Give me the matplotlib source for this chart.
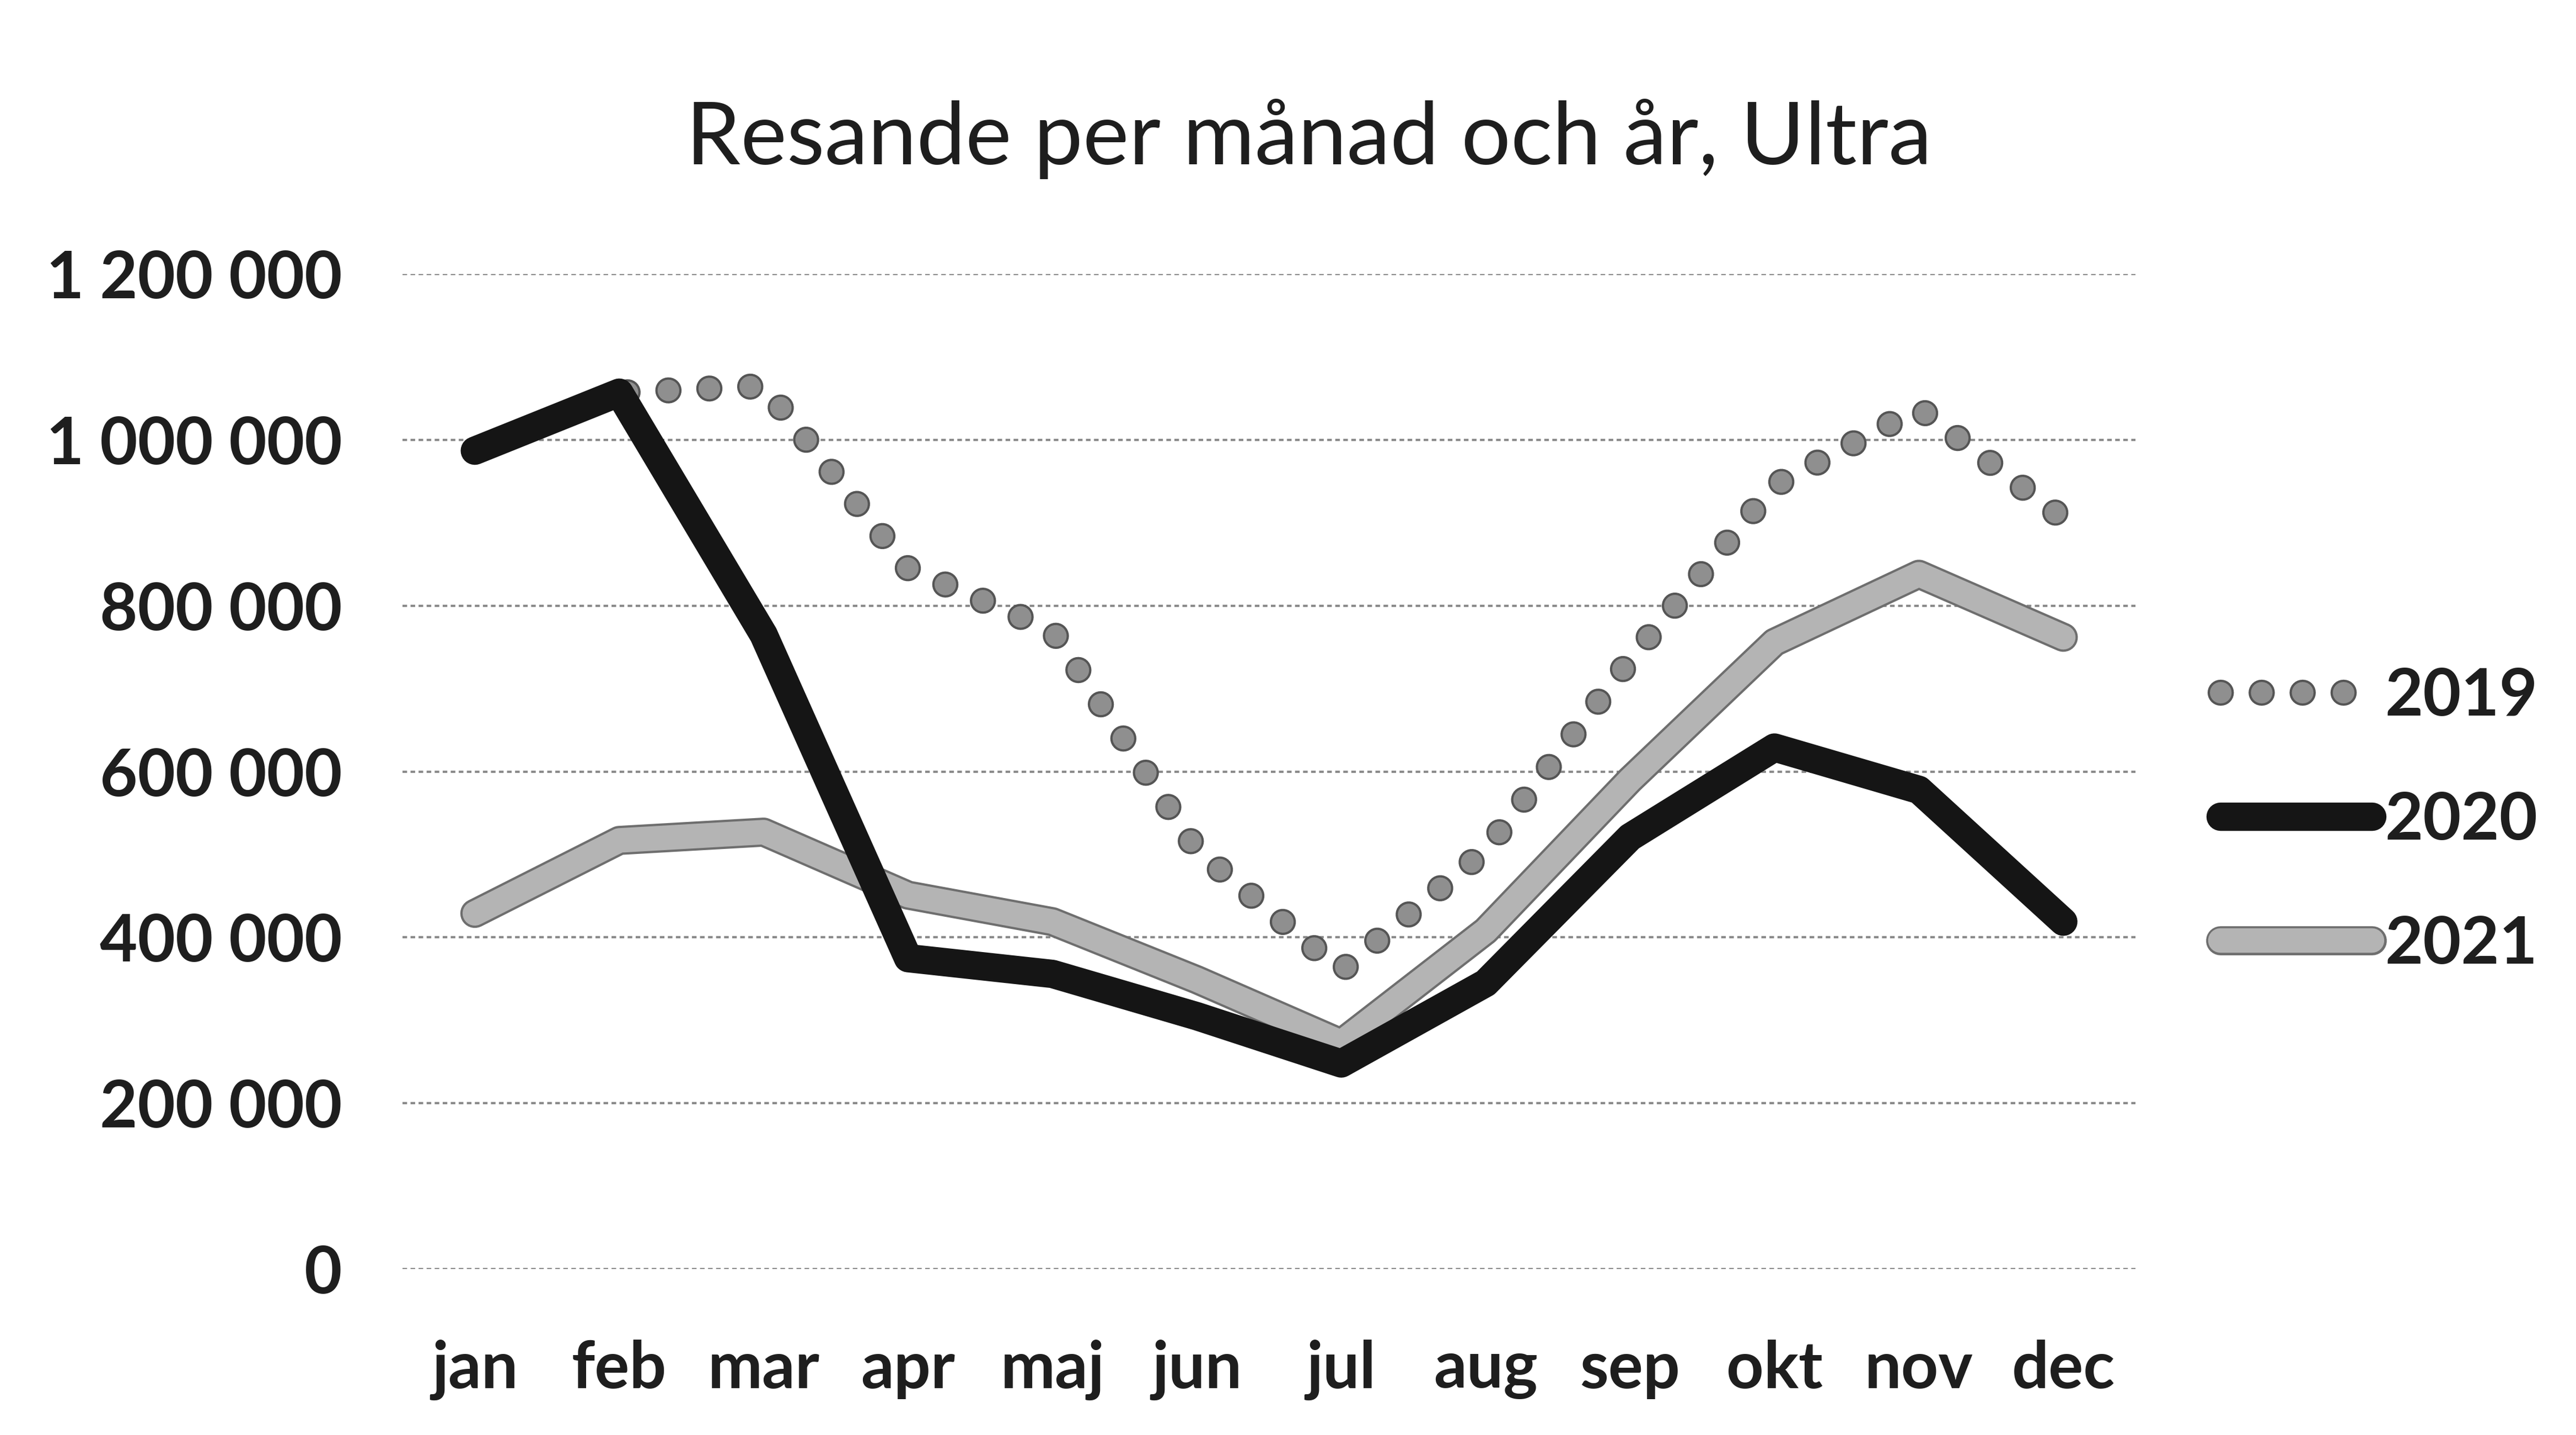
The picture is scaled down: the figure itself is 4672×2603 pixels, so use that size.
import matplotlib
matplotlib.use('Agg')
import matplotlib.pyplot as plt
import matplotlib.patheffects as pe

# Data
months = ['jan', 'feb', 'mar', 'apr', 'maj', 'jun', 'jul', 'aug', 'sep', 'okt', 'nov', 'dec']
y2019 = [987000, 1057000, 1065000, 845000, 770000, 505000, 360000, 505000, 735000, 945000, 1038000, 905000]
y2020 = [987000, 1057000, 765000, 375000, 356000, 305000, 248000, 345000, 521000, 629000, 578000, 419000]
y2021 = [429000, 517000, 527000, 451000, 419000, 349000, 273000, 408000, 590000, 756000, 838000, 762000]
yticks = [0, 200000, 400000, 600000, 800000, 1000000, 1200000]

plt.rcParams['font.family'] = ['Lato', 'DejaVu Sans']

fig = plt.figure(figsize=(46.72, 26.03), dpi=100)
ax = fig.add_axes([0.1563, 0.1156, 0.6727, 0.6934])

x = list(range(len(months)))

# 2021: grey textured band
l21, = ax.plot(x, y2021, color='#b4b4b4', lw=32, solid_capstyle='round',
               solid_joinstyle='round', label='2021', zorder=3)
l21.set_path_effects([pe.Stroke(linewidth=38, foreground='#6e6e6e'), pe.Normal()])

# 2019: round dots
l19, = ax.plot(x, y2019, color='#8f8f8f', lw=28, linestyle=(0, (0.01, 1.9)),
               dash_capstyle='round', label='2019', zorder=2)
l19.set_path_effects([pe.Stroke(linewidth=34, foreground='#555555'), pe.Normal()])

# 2020: thick black line
l20, = ax.plot(x, y2020, color='#151515', lw=37, solid_capstyle='round',
               solid_joinstyle='round', label='2020', zorder=4)

ax.set_xlim(-0.5, 11.5)
ax.set_ylim(0, 1200000)
ax.set_yticks(yticks)
ax.set_yticklabels([f"{v:,}".replace(',', ' ') for v in yticks])
ax.set_xticks(x)
ax.set_xticklabels(months)
ax.tick_params(axis='both', length=0, labelsize=85, colors='#1e1e1e')
ax.tick_params(axis='y', pad=79)
ax.tick_params(axis='x', pad=92)
for lab in ax.get_xticklabels() + ax.get_yticklabels():
    lab.set_fontweight('bold')

ax.grid(axis='y', color='#8a8a8a', linestyle=(0, (2, 1.5)), linewidth=3)
ax.set_axisbelow(True)
for s in ax.spines.values():
    s.set_visible(False)

fig.text(0.508, 0.903, 'Resande per månad och år, Ultra', ha='center', va='center',
         fontsize=114, color='#1e1e1e')

leg = fig.legend(handles=[l19, l20, l21], loc='center left', bbox_to_anchor=(0.862, 0.428),
                 frameon=False, fontsize=86, handlelength=2.3, handletextpad=0.2,
                 labelspacing=0.98, borderpad=0, borderaxespad=0)
for t in leg.get_texts():
    t.set_fontweight('bold')
    t.set_color('#1e1e1e')

fig.savefig('out.png', dpi=100, facecolor='white')
